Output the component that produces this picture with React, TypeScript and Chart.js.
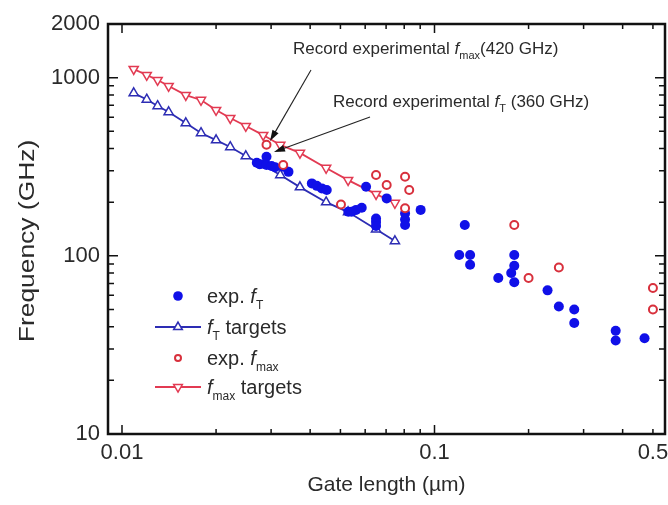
import React, { useEffect, useRef } from 'react';
import { Chart, registerables } from 'chart.js';

Chart.register(...registerables);

// ---- Data (gate length in µm, frequency in GHz) ----
const TARGET_GATE_LENGTH = [0.0109, 0.012, 0.013, 0.0141, 0.016, 0.0179, 0.02, 0.0222, 0.0249, 0.0283, 0.0321, 0.0371, 0.045, 0.0529, 0.065, 0.0747];
const FT_TARGETS = [819, 754, 693, 641, 556, 489, 446, 408, 363, 323, 284, 243, 200, 176, 141, 121];
const FMAX_TARGETS = [1117, 1034, 969, 897, 798, 749, 658, 593, 535, 476, 419, 378, 311, 266, 222, 198];

const EXP_FT_GATE = [0.029, 0.027, 0.0276, 0.029, 0.0301, 0.0309, 0.0328, 0.0341, 0.0405, 0.042, 0.0436, 0.0452, 0.053, 0.0543, 0.0561, 0.0585, 0.0604, 0.0703, 0.065, 0.065, 0.065, 0.0805, 0.0805, 0.0805, 0.0903, 0.125, 0.12, 0.13, 0.13, 0.16, 0.18, 0.18, 0.176, 0.18, 0.23, 0.25, 0.28, 0.28, 0.38, 0.38, 0.47];
const EXP_FT = [360, 333, 327, 323, 319, 314, 316, 296, 255, 247, 239, 234, 177, 177, 181, 186, 244, 210, 162, 155, 147, 173, 160, 149, 181, 149, 101, 101, 89, 75, 101, 88, 80, 71, 64, 52, 50, 42, 38, 33.5, 34.5];

const EXP_FMAX_GATE = [0.029, 0.0328, 0.0502, 0.065, 0.0703, 0.0805, 0.083, 0.0805, 0.18, 0.2, 0.25, 0.5, 0.5];
const EXP_FMAX = [420, 323, 194, 284, 250, 278, 234, 185, 149, 75, 86, 66, 50];

// ---- Axes ----
const X_MIN = 0.00902;
const X_MAX = 0.5465;
const Y_MIN = 10;
const Y_MAX = 2000;
const X_TICKS = [0.01, 0.02, 0.03, 0.04, 0.05, 0.06, 0.07, 0.08, 0.09, 0.1, 0.2, 0.3, 0.4, 0.5];
const X_LABELED = [0.01, 0.1, 0.5];
const X_MAJOR = [0.01, 0.1];
const Y_TICKS = [10, 20, 30, 40, 50, 60, 70, 80, 90, 100, 200, 300, 400, 500, 600, 700, 800, 900, 1000, 2000];
const Y_LABELED = [10, 100, 1000, 2000];
const Y_MAJOR = [10, 100, 1000];
const X_TITLE = 'Gate length (µm)';
const Y_TITLE = 'Frequency (GHz)';

// ---- Annotations (data coordinates) ----
const ANNOT_FMAX_TEXT_AT = [0.03524, 1357];
const ANNOT_FMAX_ARROW = [[0.04025, 1103], [0.02976, 441]];
const ANNOT_FT_TEXT_AT = [0.04733, 684];
const ANNOT_FT_ARROW = [[0.06216, 601], [0.03065, 382]];

const FONT = '"Liberation Sans", Arial, Helvetica, sans-serif';
const TEXT_COLOR = '#2a2a2a';

const C_EXP_FT = '#1010e8';
const C_FT_TGT = '#2d2db4';
const C_EXP_FMAX = '#d8303c';
const C_FMAX_TGT = '#e23a52';

type Part = { t: string; it?: boolean; sub?: boolean };

function drawRich(ctx: CanvasRenderingContext2D, parts: Part[], x: number, y: number, size: number) {
  let cx = x;
  for (const p of parts) {
    const fs = p.sub ? Math.round(size * 0.62) : size;
    ctx.font = `${p.it ? 'italic ' : ''}${fs}px ${FONT}`;
    ctx.fillText(p.t, cx, p.sub ? y + size * 0.3 : y);
    cx += ctx.measureText(p.t).width;
  }
}

function tri(ctx: CanvasRenderingContext2D, x: number, y: number, r: number, down: boolean) {
  const s = down ? -1 : 1;
  ctx.beginPath();
  ctx.moveTo(x, y - s * r);
  ctx.lineTo(x + r * 0.866, y + s * r * 0.5);
  ctx.lineTo(x - r * 0.866, y + s * r * 0.5);
  ctx.closePath();
}

const framePlugin = {
  id: 'frame',
  afterDatasetsDraw(chart: any) {
    const { ctx, chartArea: a, scales } = chart;
    const xs = scales.x;
    const ys = scales.y;
    ctx.save();
    ctx.strokeStyle = '#111';
    ctx.lineWidth = 1.5;
    ctx.beginPath();
    X_TICKS.forEach((v) => {
      const px = xs.getPixelForValue(v);
      const len = X_MAJOR.includes(v) ? 9 : 5;
      ctx.moveTo(px, a.bottom);
      ctx.lineTo(px, a.bottom - len);
      ctx.moveTo(px, a.top);
      ctx.lineTo(px, a.top + len);
    });
    Y_TICKS.forEach((v) => {
      const py = ys.getPixelForValue(v);
      const len = Y_MAJOR.includes(v) ? 10 : 6;
      ctx.moveTo(a.left, py);
      ctx.lineTo(a.left + len, py);
      ctx.moveTo(a.right, py);
      ctx.lineTo(a.right - len, py);
    });
    ctx.stroke();
    ctx.lineWidth = 2.5;
    ctx.strokeRect(a.left, a.top, a.right - a.left, a.bottom - a.top);
    ctx.restore();
  },
};

function arrow(ctx: CanvasRenderingContext2D, x1: number, y1: number, x2: number, y2: number) {
  const ang = Math.atan2(y2 - y1, x2 - x1);
  const L = 11;
  const W = 3.5;
  ctx.beginPath();
  ctx.moveTo(x1, y1);
  ctx.lineTo(x2 - Math.cos(ang) * L * 0.8, y2 - Math.sin(ang) * L * 0.8);
  ctx.stroke();
  ctx.beginPath();
  ctx.moveTo(x2, y2);
  ctx.lineTo(x2 - Math.cos(ang) * L - Math.sin(ang) * W, y2 - Math.sin(ang) * L + Math.cos(ang) * W);
  ctx.lineTo(x2 - Math.cos(ang) * L + Math.sin(ang) * W, y2 - Math.sin(ang) * L - Math.cos(ang) * W);
  ctx.closePath();
  ctx.fill();
}

const annotPlugin = {
  id: 'annot',
  afterDraw(chart: any) {
    const { ctx, scales } = chart;
    const X = (v: number) => scales.x.getPixelForValue(v);
    const Y = (v: number) => scales.y.getPixelForValue(v);
    const a = chart.chartArea;
    ctx.save();
    ctx.fillStyle = TEXT_COLOR;
    ctx.strokeStyle = '#222';
    ctx.lineWidth = 1.1;
    ctx.textBaseline = 'alphabetic';
    ctx.textAlign = 'left';

    // y-axis title (stretched along its length like the original)
    ctx.save();
    ctx.translate(28, (a.top + a.bottom) / 2 + 12);
    ctx.rotate(-Math.PI / 2);
    ctx.scale(1.2, 1);
    ctx.font = `22px ${FONT}`;
    ctx.textAlign = 'center';
    ctx.textBaseline = 'middle';
    ctx.fillText(Y_TITLE, 0, 0);
    ctx.restore();

    drawRich(ctx, [{ t: 'Record experimental ' }, { t: 'f', it: true }, { t: 'max', sub: true }, { t: '(420 GHz)' }], X(ANNOT_FMAX_TEXT_AT[0]), Y(ANNOT_FMAX_TEXT_AT[1]), 17);
    drawRich(ctx, [{ t: 'Record experimental ' }, { t: 'f', it: true }, { t: 'T', sub: true }, { t: ' (360 GHz)' }], X(ANNOT_FT_TEXT_AT[0]), Y(ANNOT_FT_TEXT_AT[1]), 17);
    ctx.fillStyle = '#111';
    arrow(ctx, X(ANNOT_FMAX_ARROW[0][0]), Y(ANNOT_FMAX_ARROW[0][1]), X(ANNOT_FMAX_ARROW[1][0]), Y(ANNOT_FMAX_ARROW[1][1]));
    arrow(ctx, X(ANNOT_FT_ARROW[0][0]), Y(ANNOT_FT_ARROW[0][1]), X(ANNOT_FT_ARROW[1][0]), Y(ANNOT_FT_ARROW[1][1]));

    // legend
    const sx = a.left + 70;
    const tx = a.left + 99;
    const rows = [a.top + 272, a.top + 303, a.top + 334, a.top + 363];
    const size = 20;
    ctx.fillStyle = C_EXP_FT;
    ctx.beginPath();
    ctx.arc(sx, rows[0], 4.8, 0, Math.PI * 2);
    ctx.fill();
    ctx.strokeStyle = C_FT_TGT;
    ctx.lineWidth = 2;
    ctx.beginPath();
    ctx.moveTo(sx - 23, rows[1]);
    ctx.lineTo(sx + 23, rows[1]);
    ctx.stroke();
    tri(ctx, sx, rows[1], 5, false);
    ctx.fillStyle = '#fff';
    ctx.fill();
    ctx.lineWidth = 1.5;
    ctx.stroke();
    ctx.strokeStyle = C_EXP_FMAX;
    ctx.lineWidth = 2;
    ctx.beginPath();
    ctx.arc(sx, rows[2], 3, 0, Math.PI * 2);
    ctx.fillStyle = '#fff';
    ctx.fill();
    ctx.stroke();
    ctx.strokeStyle = C_FMAX_TGT;
    ctx.lineWidth = 2;
    ctx.beginPath();
    ctx.moveTo(sx - 23, rows[3]);
    ctx.lineTo(sx + 23, rows[3]);
    ctx.stroke();
    tri(ctx, sx, rows[3], 5, true);
    ctx.fillStyle = '#fff';
    ctx.fill();
    ctx.lineWidth = 1.5;
    ctx.stroke();

    ctx.fillStyle = TEXT_COLOR;
    drawRich(ctx, [{ t: 'exp. ' }, { t: 'f', it: true }, { t: 'T', sub: true }], tx, rows[0] + 7, size);
    drawRich(ctx, [{ t: 'f', it: true }, { t: 'T', sub: true }, { t: ' targets' }], tx, rows[1] + 7, size);
    drawRich(ctx, [{ t: 'exp. ' }, { t: 'f', it: true }, { t: 'max', sub: true }], tx, rows[2] + 7, size);
    drawRich(ctx, [{ t: 'f', it: true }, { t: 'max', sub: true }, { t: ' targets' }], tx, rows[3] + 7, size);
    ctx.restore();
  },
};

const toPoints = (xs: number[], ys: number[]) => xs.map((x, i) => ({ x, y: ys[i] }));

export default function App() {
  const ref = useRef<HTMLCanvasElement | null>(null);
  useEffect(() => {
    if (!ref.current) return;
    const tickFont = { family: FONT, size: 22 };
    const chart = new Chart(ref.current, {
      type: 'scatter',
      data: {
        datasets: [
          {
            label: 'exp. fmax',
            data: toPoints(EXP_FMAX_GATE, EXP_FMAX),
            pointStyle: 'circle',
            pointRadius: 4,
            borderWidth: 2,
            borderColor: C_EXP_FMAX,
            backgroundColor: '#ffffff',
            showLine: false,
            order: 0,
          },
          {
            label: 'exp. fT',
            data: toPoints(EXP_FT_GATE, EXP_FT),
            pointStyle: 'circle',
            pointRadius: 5,
            borderWidth: 0,
            backgroundColor: C_EXP_FT,
            borderColor: C_EXP_FT,
            showLine: false,
            order: 1,
          },
          {
            label: 'fmax targets',
            data: toPoints(TARGET_GATE_LENGTH, FMAX_TARGETS),
            showLine: true,
            borderColor: C_FMAX_TGT,
            borderWidth: 1.8,
            pointStyle: 'triangle',
            rotation: 180,
            pointRadius: 5.3,
            pointBorderWidth: 1.5,
            pointBorderColor: C_FMAX_TGT,
            pointBackgroundColor: '#ffffff',
            order: 2,
          },
          {
            label: 'fT targets',
            data: toPoints(TARGET_GATE_LENGTH, FT_TARGETS),
            showLine: true,
            borderColor: C_FT_TGT,
            borderWidth: 1.8,
            pointStyle: 'triangle',
            pointRadius: 5.3,
            pointBorderWidth: 1.5,
            pointBorderColor: C_FT_TGT,
            pointBackgroundColor: '#ffffff',
            order: 3,
          },
        ],
      },
      options: {
        responsive: false,
        animation: false,
        layout: { padding: { top: 24, right: 3, left: 0, bottom: 0 }, autoPadding: false },
        plugins: { legend: { display: false }, tooltip: { enabled: false } },
        scales: {
          x: {
            type: 'logarithmic',
            position: 'bottom',
            min: X_MIN,
            max: X_MAX,
            afterBuildTicks: (s: any) => {
              s.ticks = X_TICKS.map((v) => ({ value: v }));
            },
            afterFit: (s: any) => {
              s.height = 71;
              s.paddingLeft = 0;
              s.paddingRight = 0;
            },
            grid: { display: false, drawTicks: false },
            border: { display: false },
            ticks: {
              autoSkip: false,
              maxRotation: 0,
              minRotation: 0,
              padding: 6,
              color: TEXT_COLOR,
              font: tickFont,
              callback: (v: any) => (X_LABELED.includes(Number(v)) ? String(v) : ''),
            },
            title: {
              display: true,
              text: X_TITLE,
              color: TEXT_COLOR,
              font: { family: FONT, size: 21 },
              padding: { top: 0, bottom: 7 },
            },
          },
          y: {
            type: 'logarithmic',
            position: 'left',
            min: Y_MIN,
            max: Y_MAX,
            afterBuildTicks: (s: any) => {
              s.ticks = Y_TICKS.map((v) => ({ value: v }));
            },
            afterFit: (s: any) => {
              s.width = 108;
              s.paddingTop = 0;
              s.paddingBottom = 0;
            },
            grid: { display: false, drawTicks: false },
            border: { display: false },
            ticks: {
              autoSkip: false,
              padding: 8,
              color: TEXT_COLOR,
              font: tickFont,
              callback: (v: any) => (Y_LABELED.includes(Number(v)) ? String(v) : ''),
            },
            title: { display: false, text: Y_TITLE },
          },
        },
      },
      plugins: [framePlugin, annotPlugin],
    } as any);
    return () => chart.destroy();
  }, []);
  return (
    <div style={{ position: 'fixed', left: 0, top: 0, width: 668, height: 505, background: '#fff' }}>
      <canvas ref={ref} width={668} height={505} style={{ display: 'block', width: 668, height: 505 }} />
    </div>
  );
}
